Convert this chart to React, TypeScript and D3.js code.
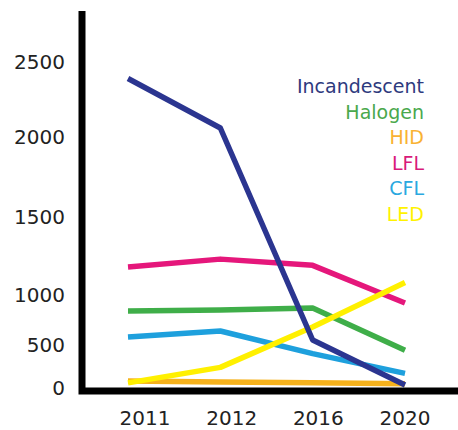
import * as d3 from 'd3'

const years = ['2011', '2012', '2016', '2020']
const seriesNames = ['Incandescent', 'Halogen', 'HID', 'LFL', 'CFL', 'LED']
const incandescent = [2390, 2060, 550, 35]
const halogen = [840, 850, 870, 440]
const hid = [80, 70, 60, 50]
const lfl = [1180, 1230, 1190, 920]
const cfl = [580, 640, 400, 170]
const led = [60, 240, 680, 1080]
const yTicks = [0, 500, 1000, 1500, 2000, 2500]

const lineColors = ['#2b3590', '#3fae49', '#f6b21c', '#e5177b', '#1ea0dd', '#fff000']
const textColors = ['#2e3a7e', '#4aa84c', '#f9b233', '#d81b7a', '#2aa8df', '#fff200']

export default function App() {
    const width = 458
    const height = 430
    const font = '"DejaVu Sans", sans-serif'

    // the original axis is drawn by hand, spacing isn't even
    const scaleY = d3.scaleLinear()
        .domain(yTicks)
        .range([388, 345, 295, 217, 137, 62])
    const scaleX = d3.scalePoint<string>().domain(years).range([128, 405])
    const scaleXLabel = d3.scalePoint<string>().domain(years).range([145, 405])

    const series = [incandescent, halogen, hid, lfl, cfl, led]
    // draw order: HID under everything, navy on top of the rest
    const drawOrder = [2, 3, 1, 4, 5, 0]

    const line = d3.line<number>()
        .x((d, i) => scaleX(years[i]) as number)
        .y(d => scaleY(d))

    return (
        <svg width={width} height={height} style={{ position: 'absolute', left: 0, top: 0, background: '#fff' }}>
            {drawOrder.map(i => (
                <path key={seriesNames[i]} d={line(series[i]) as string}
                    fill='none' stroke={lineColors[i]} strokeWidth={5.5}
                    strokeLinejoin='round' />
            ))}
            <path d='M82,11 V391 H458' fill='none' stroke='#000' strokeWidth={7} />
            {yTicks.map(t => (
                <text key={t} x={65} y={scaleY(t)} textAnchor='end' dominantBaseline='central'
                    fontFamily={font} fontSize={20} fill='#222'>{t}</text>
            ))}
            {years.map(y => (
                <text key={y} x={scaleXLabel(y)} y={418} textAnchor='middle' dominantBaseline='central'
                    fontFamily={font} fontSize={20} fill='#222'>{y}</text>
            ))}
            {seriesNames.map((name, i) => (
                <text key={name} x={424} y={86 + i * 25.5} textAnchor='end' dominantBaseline='central'
                    fontFamily={font} fontSize={19} fill={textColors[i]}>{name}</text>
            ))}
        </svg>
    )
}
